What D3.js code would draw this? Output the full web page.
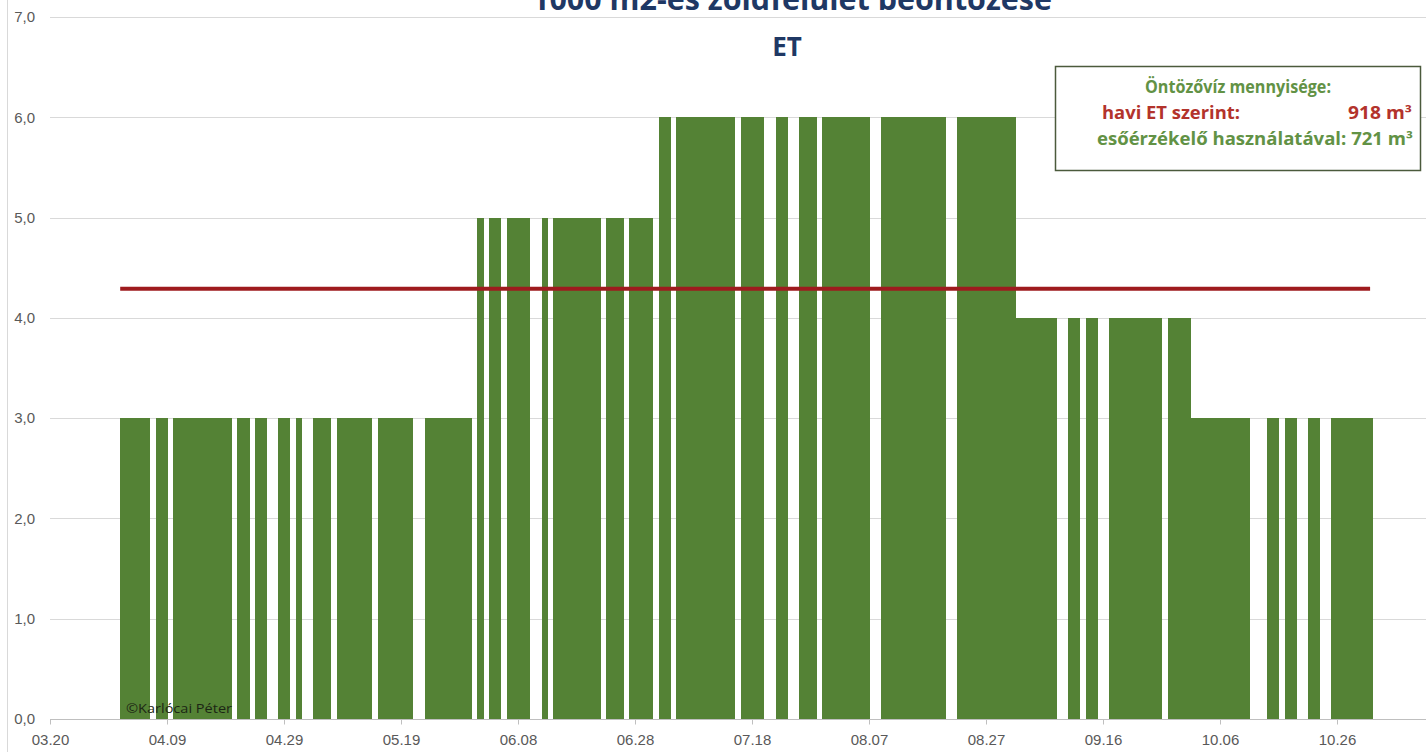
<!DOCTYPE html>
<html lang="hu">
	<head>
		<meta charset="utf-8">
		<title>ET öntözés</title>
		<script type="text/javascript" src="https://cdn.jsdelivr.net/npm/d3@7"></script>
		<style>
			body { margin: 0; background: #fff; }
			svg { display: block; }
			.tick text { fill: #595959; font-family: "Liberation Sans", Arial, sans-serif; font-size: 15px; }
		</style>
	</head>
	<body>
			<div id="chart"></div>
			<script type="text/javascript">

// daily irrigation (mm = m3 / 1000 m2), 0 = rain day, no irrigation
var apr = [3,3,3,3,3,0,3,3,0,3,3,3,3,3,3,3,3,3,3,0,3,3,0,3,3,0,0,3,3,0];
var may = [3,0,0,3,3,3,0,3,3,3,3,3,3,0,3,3,3,3,3,3,0,0,3,3,3,3,3,3,3,3,0];
var jun = [5,0,5,5,0,5,5,5,5,0,0,5,0,5,5,5,5,5,5,5,5,0,5,5,5,0,5,5,5,5];
var jul = [0,6,6,0,6,6,6,6,6,6,6,6,6,6,0,6,6,6,6,0,0,6,6,0,0,6,6,6,0,6,6];
var aug = [6,6,6,6,6,6,0,0,6,6,6,6,6,6,6,6,6,6,6,0,0,6,6,6,6,6,6,6,6,6,6];
var sep = [4,4,4,4,4,4,4,0,0,4,4,0,4,4,0,0,4,4,4,4,4,4,4,4,4,0,4,4,4,4];
var oct = [3,3,3,3,3,3,3,3,3,3,0,0,0,3,3,0,3,3,0,0,3,3,0,0,3,3,3,3,3,3,3];
var months = [apr, may, jun, jul, aug, sep, oct];
var firstMonth = 3; // April (0-based)

// average ET line (918 m3 / 214 days)
var avgET = 4.29;
var avgFrom = "04.01";
var avgTo = "10.31";

var tickLabels = ["03.20","04.09","04.29","05.19","06.08","06.28","07.18","08.07","08.27","09.16","10.06","10.26"];
var yTicks = [0,1,2,3,4,5,6,7];

var title = "1000 m2-es zöldfelület beöntözése";
var subtitle = "ET";
var boxHead = "Öntözővíz mennyisége:";
var boxET = ["havi ET szerint:", "918 m³"];
var boxRain = "esőérzékelő használatával: 721 m³";
var credit = "©Karlócai Péter";

var W = 1426, H = 752;
var YEAR = 2017;
var parseD = function(s) { return d3.utcParse("%Y.%m.%d")(YEAR + "." + s); };

var daily = [];
months.forEach(function(m, i) {
	m.forEach(function(v, j) {
		daily.push({date: new Date(Date.UTC(YEAR, firstMonth + i, j + 1)), value: v});
	});
});

var svg = d3.select("#chart")
	.append("svg")
	.attr("width", W)
	.attr("height", H);

var x = d3.scaleUtc()
	.domain([parseD("03.20"), parseD("10.26")])
	.range([50, 1337]);

var y = d3.scaleLinear()
	.domain([0, 7])
	.range([719, 17]);

// left border of chart area
svg.append("line")
	.attr("x1", 7.5).attr("x2", 7.5)
	.attr("y1", 0).attr("y2", H)
	.attr("stroke", "#d9d9d9");

// gridlines
svg.append("g")
	.selectAll("line")
	.data(yTicks.slice(1))
	.enter()
	.append("line")
	.attr("x1", 50).attr("x2", W)
	.attr("y1", function(d) { return Math.round(y(d)) + 0.5; })
	.attr("y2", function(d) { return Math.round(y(d)) + 0.5; })
	.attr("stroke", "#d9d9d9");

// y labels
var yAxis = svg.append("g")
	.attr("transform", "translate(35,0)")
	.call(d3.axisLeft(y).tickValues(yTicks).tickSize(0).tickPadding(0)
		.tickFormat(function(d) { return d3.format(".1f")(d).replace(".", ","); }));
yAxis.select(".domain").remove();

// bars (neighbouring days merge into one block)
svg.append("g")
	.attr("shape-rendering", "crispEdges")
	.selectAll("rect")
	.data(daily.filter(function(d) { return d.value > 0; }))
	.enter()
	.append("rect")
	.attr("x", function(d) { return x(d.date) + 0.2; })
	.attr("width", function(d) { return x(d3.utcDay.offset(d.date, 1)) - x(d.date) + 0.4; })
	.attr("y", function(d) { return y(d.value); })
	.attr("height", function(d) { return y(0) - y(d.value); })
	.attr("fill", "#548235");

// x axis
svg.append("line")
	.attr("x1", 50).attr("x2", W)
	.attr("y1", 719.5).attr("y2", 719.5)
	.attr("stroke", "#bfbfbf");

var xAxis = svg.append("g")
	.attr("transform", "translate(0,719.5)")
	.call(d3.axisBottom(x)
		.tickValues(tickLabels.map(parseD))
		.tickFormat(d3.utcFormat("%m.%d"))
		.tickSize(5)
		.tickPadding(10));
xAxis.select(".domain").remove();
xAxis.selectAll(".tick line").attr("stroke", "#bfbfbf");

// average ET line
svg.append("line")
	.attr("x1", x(parseD(avgFrom)))
	.attr("x2", x(d3.utcDay.offset(parseD(avgTo), 1)) - 2)
	.attr("y1", y(avgET))
	.attr("y2", y(avgET))
	.attr("stroke", "#9e1b1e")
	.attr("stroke-width", 4);

// titles
svg.append("text")
	.attr("x", 792).attr("y", 10)
	.attr("text-anchor", "middle")
	.attr("textLength", 520)
	.attr("lengthAdjust", "spacingAndGlyphs")
	.style("font", "bold 30px 'Open Sans', sans-serif")
	.style("fill", "#1f3864")
	.text(title);

svg.append("text")
	.attr("x", 787).attr("y", 56)
	.attr("text-anchor", "middle")
	.style("font", "bold 26px 'Open Sans', sans-serif")
	.style("fill", "#1f3864")
	.text(subtitle);

// info box
var box = svg.append("g");
box.append("rect")
	.attr("x", 1055.5).attr("y", 66.5)
	.attr("width", 365).attr("height", 104)
	.attr("fill", "#fff")
	.attr("stroke", "#4b5a3c")
	.attr("stroke-width", 1.5);

box.append("text")
	.attr("x", 1238).attr("y", 93)
	.attr("text-anchor", "middle")
	.attr("textLength", 186)
	.attr("lengthAdjust", "spacingAndGlyphs")
	.style("font", "bold 17px 'Open Sans', sans-serif")
	.style("fill", "#629245")
	.text(boxHead);

box.append("text")
	.attr("x", 1102).attr("y", 119)
	.attr("textLength", 138)
	.attr("lengthAdjust", "spacingAndGlyphs")
	.style("font", "bold 17px 'Open Sans', sans-serif")
	.style("fill", "#b3332c")
	.text(boxET[0]);

box.append("text")
	.attr("x", 1412).attr("y", 119)
	.attr("text-anchor", "end")
	.attr("textLength", 64)
	.attr("lengthAdjust", "spacingAndGlyphs")
	.style("font", "bold 17px 'Open Sans', sans-serif")
	.style("fill", "#b3332c")
	.text(boxET[1]);

box.append("text")
	.attr("x", 1097).attr("y", 145)
	.attr("textLength", 316)
	.attr("lengthAdjust", "spacingAndGlyphs")
	.style("font", "bold 17px 'Open Sans', sans-serif")
	.style("fill", "#629245")
	.text(boxRain);

// credit
svg.append("text")
	.attr("x", 126).attr("y", 713)
	.attr("textLength", 106)
	.attr("lengthAdjust", "spacingAndGlyphs")
	.style("font", "13px 'Open Sans', sans-serif")
	.style("fill", "#1c2614")
	.text(credit);

		</script>
	</body>
</html>
